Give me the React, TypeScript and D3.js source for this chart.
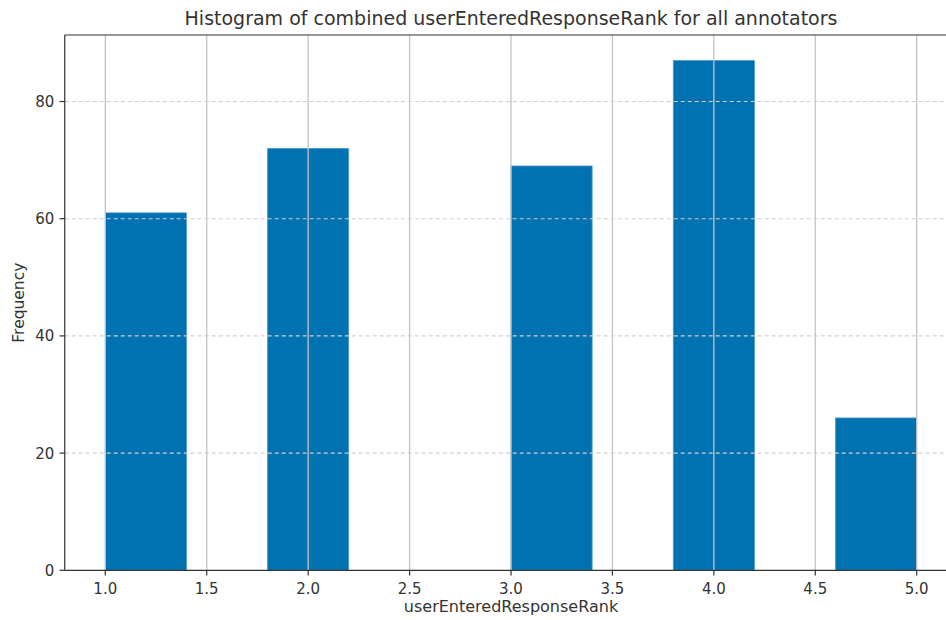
import React from "react";
import * as d3 from "d3";

const binEdges = [1.0, 1.4, 1.8, 2.2, 2.6, 3.0, 3.4, 3.8, 4.2, 4.6, 5.0];
const binCounts = [61, 0, 72, 0, 0, 69, 0, 87, 0, 26];
const xTicks = [1.0, 1.5, 2.0, 2.5, 3.0, 3.5, 4.0, 4.5, 5.0];
const yTicks = [0, 20, 40, 60, 80];
const title = "Histogram of combined userEnteredResponseRank for all annotators";
const xLabel = "userEnteredResponseRank";
const yLabel = "Frequency";

const W = 946;
const H = 620;
const FONT = "DejaVu Sans, sans-serif";

export default function App() {
  const x = d3.scaleLinear().domain([1.0, 5.0]).range([105.3, 916.7]);
  const xMin = 0.8, xMax = 5.2;
  const yMax = (d3.max(binCounts) as number) * 1.05;
  const y = d3.scaleLinear().domain([0, yMax]).range([570.3, 35]);
  const left = x(xMin), right = x(xMax), top = y(yMax), bottom = y(0);
  const bars = binCounts.map((c, i) => ({ x0: binEdges[i], x1: binEdges[i + 1], c }));
  const fmt = d3.format(".1f");
  return (
    <svg width={W} height={H} style={{ position: "absolute", left: 0, top: 0, background: "#fff" }}>
      <rect x={0} y={0} width={W} height={H} fill="#fff" />
      {bars.filter(b => b.c > 0).map((b, i) => (
        <rect key={i} x={x(b.x0)} y={y(b.c)} width={x(b.x1) - x(b.x0)} height={bottom - y(b.c)}
          fill="#0072B2" stroke="#4d9bd0" strokeWidth={0.8} />
      ))}
      {xTicks.map(t => (
        <line key={"gx" + t} x1={x(t)} x2={x(t)} y1={top} y2={bottom} stroke="#c4c4c4" strokeWidth={1.3} />
      ))}
      {yTicks.filter(t => t > 0).map(t => (
        <line key={"gy" + t} x1={left} x2={right} y1={y(t)} y2={y(t)} stroke="#cfcfcf" strokeWidth={1.1} strokeDasharray="4,3" />
      ))}
      <line x1={left} x2={right} y1={top} y2={top} stroke="#333" strokeWidth={1.2} />
      <line x1={left} x2={right} y1={bottom} y2={bottom} stroke="#333" strokeWidth={1.2} />
      <line x1={left} x2={left} y1={top} y2={bottom} stroke="#333" strokeWidth={1.2} />
      <line x1={right} x2={right} y1={top} y2={bottom} stroke="#333" strokeWidth={1.2} />
      {xTicks.map(t => (
        <g key={"tx" + t}>
          <line x1={x(t)} x2={x(t)} y1={bottom} y2={bottom + 5.25} stroke="#333" strokeWidth={1.2} />
          <text x={x(t)} y={593.5} textAnchor="middle" fontFamily={FONT} fontSize={15} fill="#333">{fmt(t)}</text>
        </g>
      ))}
      {yTicks.map(t => (
        <g key={"ty" + t}>
          <line x1={left - 5.25} x2={left} y1={y(t)} y2={y(t)} stroke="#333" strokeWidth={1.2} />
          <text x={left - 10.5} y={y(t)} dy="0.36em" textAnchor="end" fontFamily={FONT} fontSize={15} fill="#333">{t}</text>
        </g>
      ))}
      <text x={(left + right) / 2} y={25} textAnchor="middle" fontFamily={FONT} fontSize={19} fill="#333">{title}</text>
      <text x={(left + right) / 2} y={612} textAnchor="middle" fontFamily={FONT} fontSize={16} fill="#333">{xLabel}</text>
      <text transform={`translate(23.5, ${(top + bottom) / 2}) rotate(-90)`} textAnchor="middle" fontFamily={FONT} fontSize={15.5} fill="#333">{yLabel}</text>
    </svg>
  );
}
